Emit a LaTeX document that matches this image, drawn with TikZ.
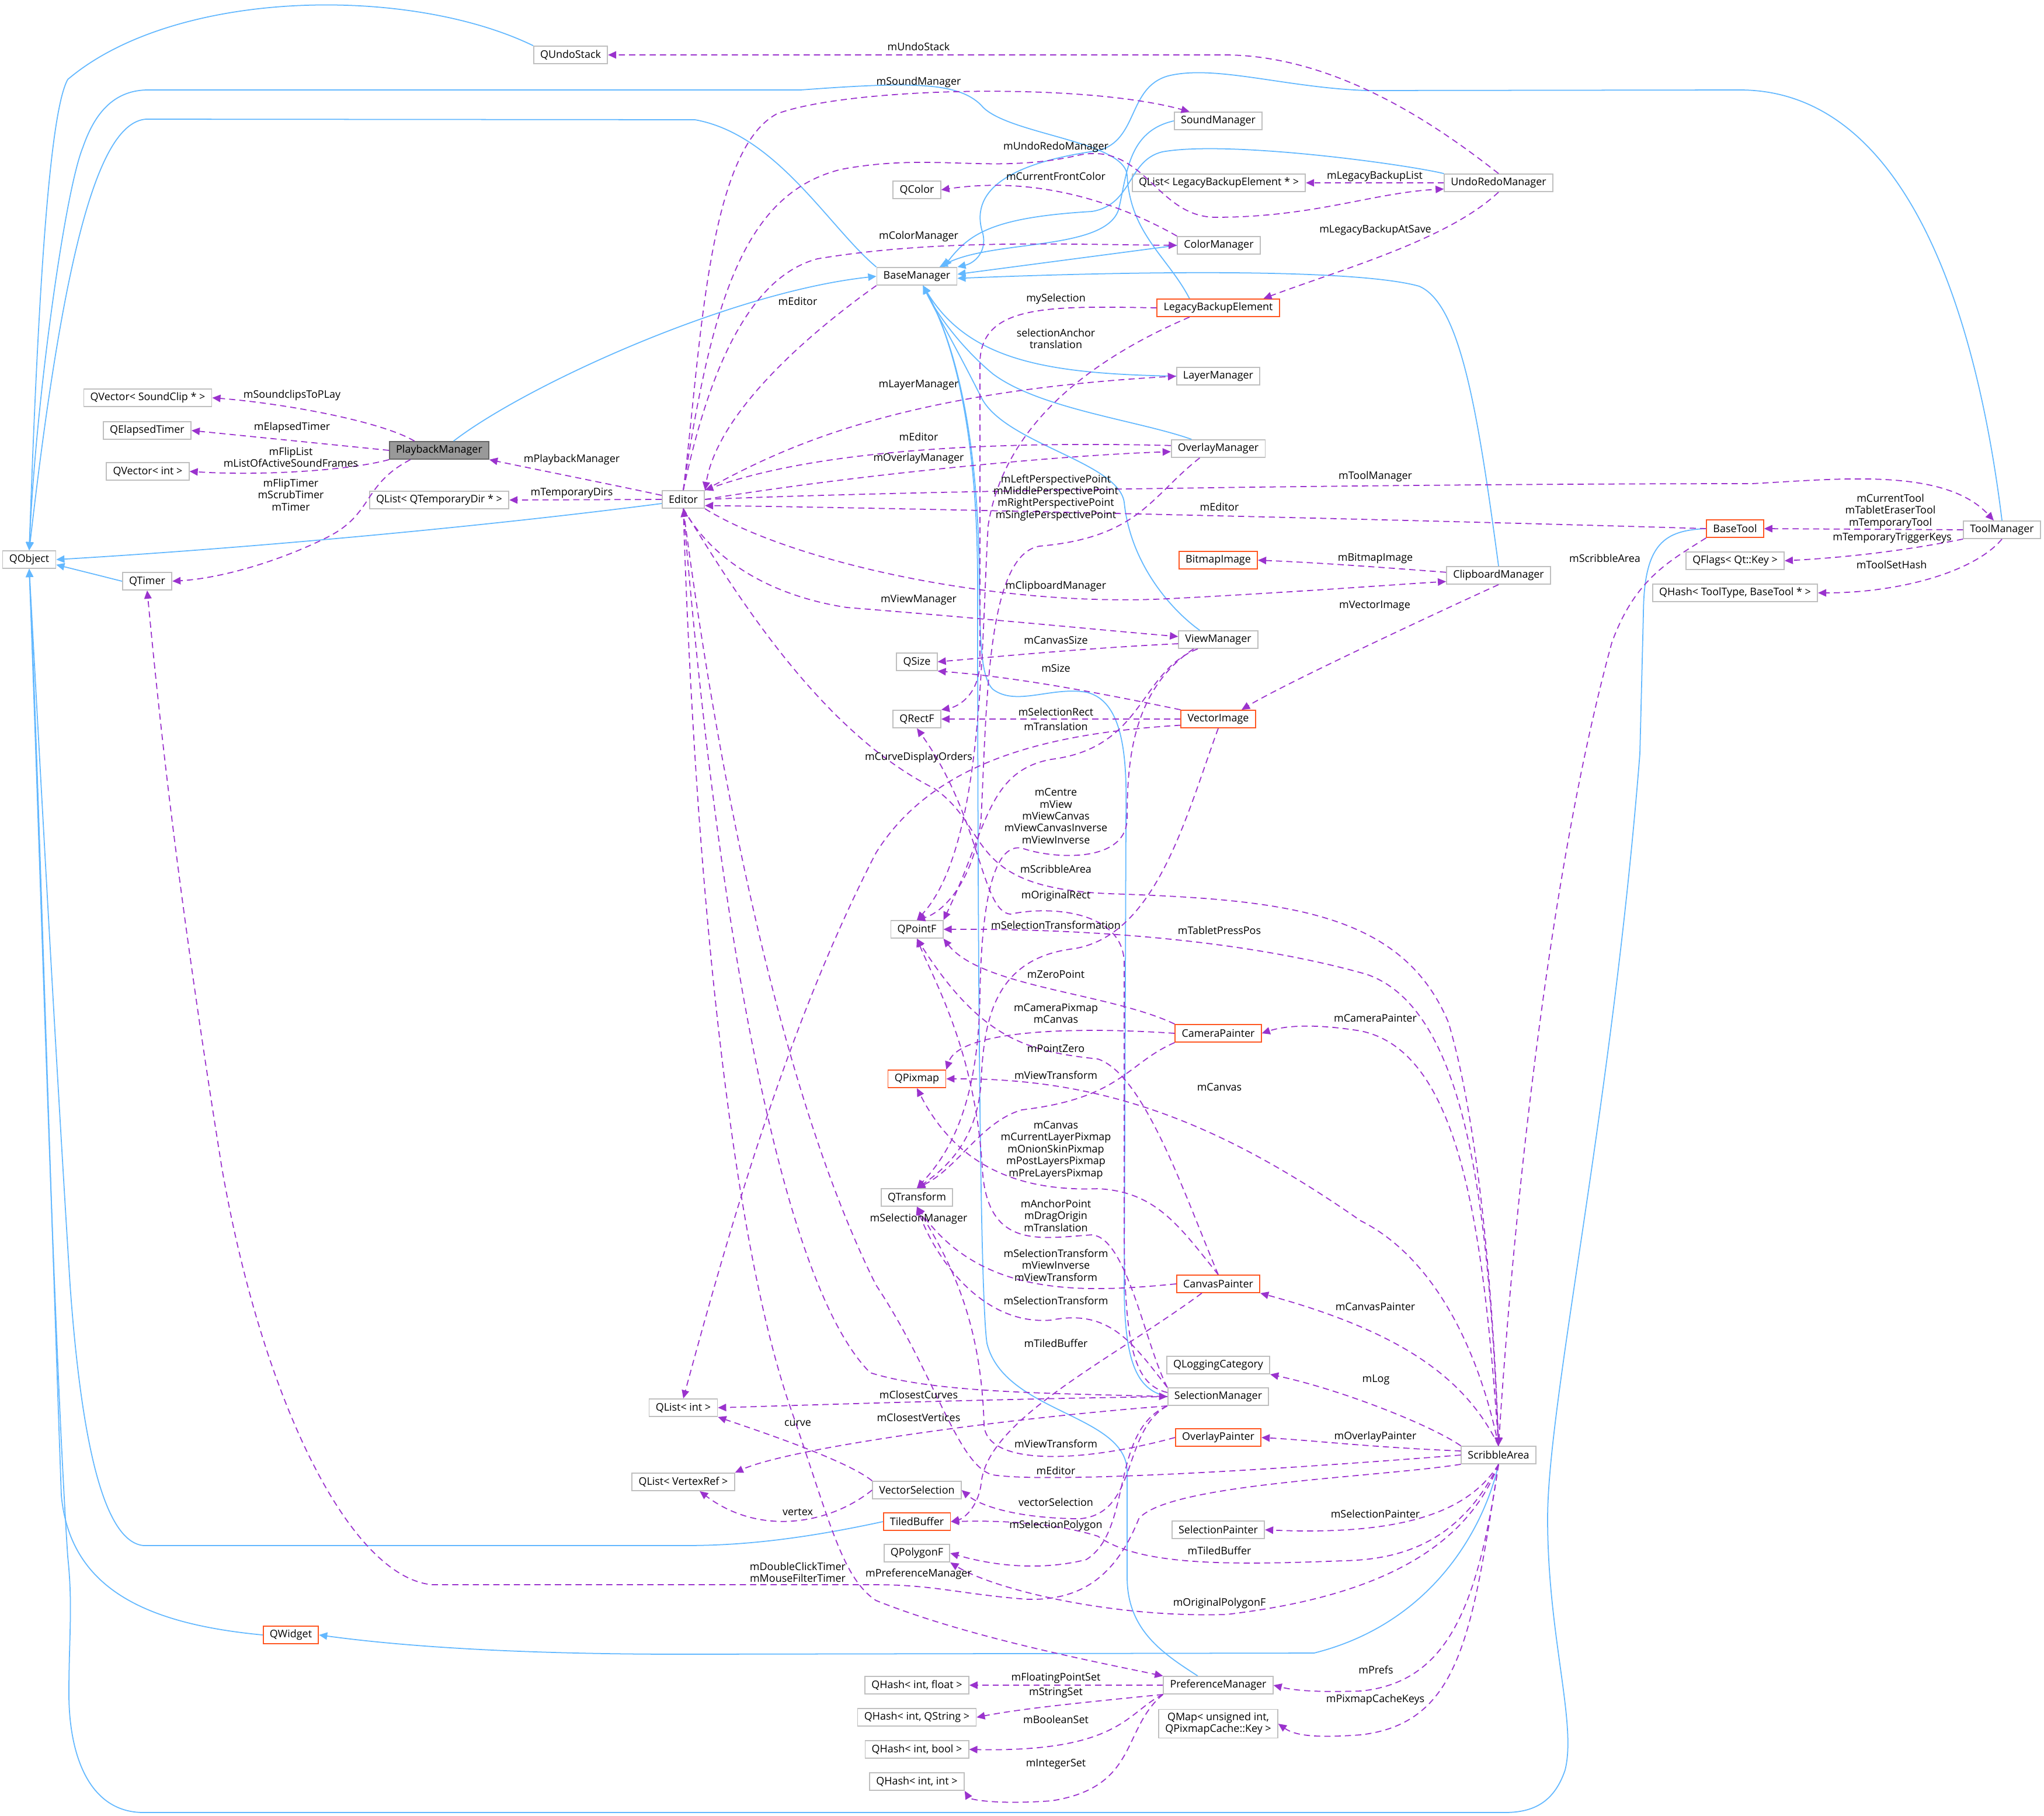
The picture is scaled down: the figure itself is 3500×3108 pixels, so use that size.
\documentclass[tikz,border=0pt]{standalone}
\usepackage{fontspec}
\setmainfont{Open Sans}
\usetikzlibrary{arrows.meta}
\definecolor{inhblue}{HTML}{63B8FF}
\definecolor{usepurple}{HTML}{9A32CD}
\definecolor{boxgray}{HTML}{BFBFBF}
\definecolor{boxred}{HTML}{FF5722}
\definecolor{curfill}{HTML}{999999}
\definecolor{curline}{HTML}{666666}

\begin{document}
\begin{tikzpicture}[
  x=0.01cm, y=-0.01cm,
  cls/.style={draw=boxgray, line width=0.5pt, fill=white, inner xsep=3.2pt,
              inner ysep=0.8pt, minimum height=0.30cm, align=center,
              font=\fontsize{5.1}{5.8}\selectfont},
  clsext/.style={cls, draw=boxred},
  clscur/.style={cls, draw=curline, fill=curfill},
  lbl/.style={inner sep=0pt, align=center, font=\fontsize{5.1}{5.8}\selectfont},
  inherit/.style={draw=inhblue, line width=0.5pt, -{Triangle[length=4pt,width=3.6pt]}},
  uses/.style={draw=usepurple, line width=0.5pt, dash pattern=on 3pt off 2pt,
               -{Triangle[length=4pt,width=3.6pt]}}
]
  \useasboundingbox (0,0) rectangle (3500,3108);

  \node[cls] (qobject) at (50,958) {QObject};
  \node[cls] (qtimer) at (252,995) {QTimer};
  \node[cls] (qvecsound) at (253,681) {QVector< SoundClip * >};
  \node[cls] (qelapsed) at (252,737) {QElapsedTimer};
  \node[cls] (qvecint) at (253,807) {QVector< int >};
  \node[clscur] (playback) at (752,771) {PlaybackManager};
  \node[cls] (qlisttmp) at (752,856) {QList< QTemporaryDir * >};
  \node[cls] (qundostack) at (977,94) {QUndoStack};
  \node[cls] (editor) at (1170,855) {Editor};
  \node[clsext] (qwidget) at (498,2799) {QWidget};
  \node[cls] (qlistint) at (1170,2410) {QList< int >};
  \node[cls] (qlistvertex) at (1170,2537) {QList< VertexRef >};

  \node[cls] (basemgr) at (1570,473) {BaseManager};
  \node[cls] (qcolor) at (1570,325) {QColor};
  \node[cls] (qsize) at (1570,1133) {QSize};
  \node[cls] (qrectf) at (1570,1231) {QRectF};
  \node[cls] (qpointf) at (1570,1591) {QPointF};
  \node[clsext] (qpixmap) at (1570,1847) {QPixmap};
  \node[cls] (qtransform) at (1570,2050) {QTransform};
  \node[cls] (vecsel) at (1570,2551) {VectorSelection};
  \node[clsext] (tiledbuf) at (1570,2605) {TiledBuffer};
  \node[cls] (qpolygonf) at (1570,2659) {QPolygonF};
  \node[cls] (qhashfloat) at (1570,2885) {QHash< int, float >};
  \node[cls] (qhashstring) at (1570,2940) {QHash< int, QString >};
  \node[cls] (qhashbool) at (1570,2995) {QHash< int, bool >};
  \node[cls] (qhashint) at (1570,3050) {QHash< int, int >};

  \node[cls] (soundmgr) at (2086,207) {SoundManager};
  \node[cls] (qlistlegacy) at (2087,313) {QList< LegacyBackupElement * >};
  \node[cls] (colormgr) at (2087,420) {ColorManager};
  \node[clsext] (legacy) at (2086,527) {LegacyBackupElement};
  \node[cls] (layermgr) at (2086,644) {LayerManager};
  \node[cls] (overlaymgr) at (2086,768) {OverlayManager};
  \node[clsext] (bitmap) at (2086,959) {BitmapImage};
  \node[cls] (viewmgr) at (2086,1095) {ViewManager};
  \node[clsext] (vecimage) at (2086,1231) {VectorImage};
  \node[clsext] (campainter) at (2086,1769) {CameraPainter};
  \node[clsext] (canvaspainter) at (2086,2198) {CanvasPainter};
  \node[cls] (qlogging) at (2086,2337) {QLoggingCategory};
  \node[cls] (selmgr) at (2086,2391) {SelectionManager};
  \node[clsext] (overlaypainter) at (2086,2461) {OverlayPainter};
  \node[cls] (selpainter) at (2086,2619) {SelectionPainter};
  \node[cls] (prefmgr) at (2086,2885) {PreferenceManager};
  \node[cls, inner ysep=1.5pt] (qmap) at (2086,2951) {QMap< unsigned int,\\ QPixmapCache::Key >};

  \node[cls] (undoredo) at (2566,313) {UndoRedoManager};
  \node[cls] (clipboard) at (2566,985) {ClipboardManager};
  \node[cls] (scribble) at (2566,2491) {ScribbleArea};
  \node[clsext] (basetool) at (2971,905) {BaseTool};
  \node[cls] (qflags) at (2971,960) {QFlags< Qt::Key >};
  \node[cls] (qhashtool) at (2971,1015) {QHash< ToolType, BaseTool * >};
  \node[cls] (toolmgr) at (3428,907) {ToolManager};

  % inheritance
  \draw[inherit] (qundostack.north west) .. controls (700,-25) and (300,-20) .. (116,136) .. controls (80,200) and (62,600) .. (qobject.north);
  \draw[inherit] ([xshift=-14pt]legacy.north) .. controls (2000,440) and (1935,400) .. (1930,300) .. controls (1925,240) and (1720,230) .. (1680,180) .. controls (1640,140) and (1560,140) .. (1371,154) -- (250,154) .. controls (190,156) and (160,200) .. (142,252) .. controls (110,330) and (60,700) .. (qobject.north);
  \draw[inherit] (basemgr.north west) .. controls (1420,390) and (1330,230) .. (1190,205) -- (250,204) .. controls (170,210) and (110,420) .. (qobject.north);
  \draw[inherit] ([yshift=-2pt]editor.west) .. controls (800,905) and (400,940) .. (qobject.east);
  \draw[inherit] (qtimer.west) -- ([yshift=-2.5pt]qobject.east);
  \draw[inherit] (qwidget.west) .. controls (250,2780) and (120,2720) .. (105,2560) .. controls (85,2000) and (65,1300) .. (qobject.south);
  \draw[inherit] (tiledbuf.west) .. controls (1350,2640) and (1250,2646) .. (1170,2646) -- (246,2646) .. controls (180,2640) and (140,2480) .. (120,2200) .. controls (95,1800) and (68,1300) .. (qobject.south);
  \draw[inherit] (basetool.west) .. controls (2850,908) and (2815,930) .. (2814,1050) -- (2808,1290) .. controls (2760,1900) and (2650,2400) .. (2650,2600) .. controls (2650,2800) and (2700,2950) .. (2680,3030) .. controls (2660,3090) and (2620,3103) .. (2576,3103) -- (246,3103) .. controls (150,3103) and (118,3000) .. (118,2900) .. controls (118,2800) and (125,2750) .. (116,2665) .. controls (92,2300) and (70,1500) .. (qobject.south);
  \draw[inherit] (scribble.south) .. controls (2540,2620) and (2450,2780) .. (2250,2830) -- (1170,2832) .. controls (900,2832) and (700,2820) .. (qwidget.east);
  \draw[inherit] ([xshift=7pt]playback.north) .. controls (900,660) and (1250,500) .. (basemgr.west);
  \draw[inherit] (soundmgr.west) .. controls (1930,225) and (1930,300) .. (1915,360) .. controls (1890,430) and (1700,410) .. ([xshift=11pt]basemgr.north);
  \draw[inherit] (undoredo.north west) .. controls (2400,280) and (2100,240) .. (1990,260) .. controls (1930,275) and (1940,350) .. (1870,362) .. controls (1700,372) and (1660,400) .. ([xshift=13pt]basemgr.north);
  \draw[inherit] (toolmgr.north) .. controls (3380,500) and (3250,154) .. (2979,154) -- (2340,155) .. controls (2200,150) and (2080,110) .. (2000,130) .. controls (1930,150) and (1950,240) .. (1880,258) .. controls (1720,280) and (1660,330) .. (1683,400) .. controls (1690,430) and (1670,450) .. (basemgr.north east);
  \draw[inherit] (colormgr.west) -- ([yshift=1pt]basemgr.east);
  \draw[inherit] (clipboard.north) .. controls (2530,700) and (2500,520) .. (2430,490) .. controls (2330,462) and (2000,462) .. ([yshift=-1pt]basemgr.east);
  \draw[inherit] (layermgr.west) .. controls (1800,640) and (1660,620) .. ([xshift=3pt]basemgr.south);
  \draw[inherit] ([xshift=-13pt]overlaymgr.north) .. controls (1950,720) and (1780,700) .. (1700,640) .. controls (1640,590) and (1600,530) .. ([xshift=3pt]basemgr.south);
  \draw[inherit] ([xshift=-9pt]viewmgr.north) .. controls (2000,1040) and (1935,960) .. (1925,860) .. controls (1915,790) and (1720,760) .. (1680,680) .. controls (1640,600) and (1600,530) .. ([xshift=3pt]basemgr.south);
  \draw[inherit] (selmgr.west) .. controls (1950,2380) and (1925,2340) .. (1925,2200) -- (1928,1400) .. controls (1930,1300) and (1925,1200) .. (1860,1185) .. controls (1800,1175) and (1740,1210) .. (1700,1180) .. controls (1680,1160) and (1678,1100) .. (1677,1000) .. controls (1676,700) and (1620,560) .. ([xshift=3pt]basemgr.south);
  \draw[inherit] ([xshift=-10pt]prefmgr.north) .. controls (1990,2830) and (1930,2790) .. (1930,2700) -- (1930,2520) .. controls (1930,2420) and (1720,2420) .. (1690,2300) .. controls (1675,2200) and (1674,1300) .. (1674,1000) .. controls (1674,700) and (1620,560) .. ([xshift=3pt]basemgr.south);

  % members
  \draw[uses] ([xshift=-12pt]playback.north) .. controls (650,720) and (480,690) .. (qvecsound.east);
  \draw[uses] (playback.west) -- (qelapsed.east);
  \draw[uses] (playback.south west) .. controls (600,805) and (450,815) .. (qvecint.east);
  \draw[uses] ([xshift=-14pt]playback.south) .. controls (620,830) and (640,880) .. (560,920) .. controls (480,960) and (380,990) .. (qtimer.east);
  \draw[uses] ([yshift=2pt]editor.west) .. controls (1050,830) and (900,800) .. (playback.south east);
  \draw[uses] (editor.west) -- (qlisttmp.east);

  \draw[uses] (undoredo.north) .. controls (2480,230) and (2300,96) .. (2100,94) -- (qundostack.east);
  \draw[uses] (editor.north) .. controls (1200,600) and (1210,260) .. (1330,195) .. controls (1450,150) and (1850,140) .. ([xshift=-14pt]soundmgr.north);
  \draw[uses] (editor.north) .. controls (1220,500) and (1280,330) .. (1440,290) .. controls (1600,260) and (1700,300) .. (1850,265) .. controls (1960,245) and (1980,370) .. (2080,372) .. controls (2250,372) and (2350,330) .. ([yshift=-3pt]undoredo.west);
  \draw[uses] (undoredo.west) -- (qlistlegacy.east);
  \draw[uses] (colormgr.north west) .. controls (1920,350) and (1780,300) .. (qcolor.east);
  \draw[uses] (undoredo.south) .. controls (2480,410) and (2300,460) .. ([xshift=-8pt]legacy.north east);
  \draw[uses] (editor.north) .. controls (1200,700) and (1260,480) .. (1400,443) .. controls (1600,410) and (1800,418) .. (colormgr.west);
  \draw[uses] (basemgr.south west) .. controls (1400,560) and (1230,700) .. (editor.north east);
  \draw[uses] (legacy.west) .. controls (1800,524) and (1680,520) .. (1678,620) -- (1678,1130) .. controls (1678,1190) and (1640,1210) .. (qrectf.north east);
  \draw[uses] ([xshift=-14pt]legacy.south) .. controls (1880,610) and (1720,720) .. (1692,900) .. controls (1680,1100) and (1685,1450) .. (qpointf.north);
  \draw[uses] (editor.north east) .. controls (1350,760) and (1550,670) .. (layermgr.west);
  \draw[uses] ([yshift=1.5pt]overlaymgr.west) .. controls (1700,755) and (1400,770) .. (editor.north east);
  \draw[uses] (editor.east) .. controls (1450,815) and (1800,780) .. ([yshift=-1.5pt]overlaymgr.west);
  \draw[uses] ([xshift=-9pt]overlaymgr.south) .. controls (1970,850) and (1950,920) .. (1780,935) .. controls (1690,950) and (1690,1200) .. (1680,1400) .. controls (1670,1500) and (1620,1560) .. (qpointf.north);
  \draw[uses] (editor.east) .. controls (1600,838) and (2500,828) .. (3000,828) .. controls (3150,820) and (3330,800) .. ([xshift=-4pt]toolmgr.north);
  \draw[uses] (basetool.west) .. controls (2600,895) and (1600,870) .. ([yshift=-3pt]editor.east);
  \draw[uses] (toolmgr.west) -- (basetool.east);
  \draw[uses] (toolmgr.south west) .. controls (3250,945) and (3150,955) .. (qflags.east);
  \draw[uses] (toolmgr.south) .. controls (3380,980) and (3250,1015) .. (qhashtool.east);
  \draw[uses] (basetool.south west) .. controls (2860,960) and (2800,990) .. (2760,1100) .. controls (2650,1500) and (2590,2100) .. (scribble.north);
  \draw[uses] ([yshift=1.5pt]clipboard.west) .. controls (2350,970) and (2250,963) .. (bitmap.east);
  \draw[uses] (editor.south east) .. controls (1350,960) and (1700,1040) .. (2000,1025) .. controls (2200,1015) and (2400,1000) .. ([yshift=-3pt]clipboard.west);
  \draw[uses] (clipboard.south) .. controls (2480,1040) and (2200,1170) .. ([xshift=-7pt]vecimage.north east);

  \draw[uses] (editor.south) .. controls (1220,960) and (1320,1020) .. (1450,1040) .. controls (1700,1060) and (1900,1080) .. ([yshift=1.5pt]viewmgr.west);
  \draw[uses] ([yshift=-2pt]viewmgr.west) .. controls (1850,1110) and (1700,1125) .. (qsize.east);
  \draw[uses] (vecimage.north west) .. controls (1900,1190) and (1750,1160) .. (qsize.south east);
  \draw[uses] (vecimage.west) -- (qrectf.east);
  \draw[uses] ([yshift=-3pt]vecimage.west) .. controls (1800,1255) and (1600,1300) .. (1500,1460) .. controls (1350,1750) and (1250,2100) .. (qlistint.north);
  \draw[uses] ([xshift=-10pt]viewmgr.south) .. controls (1950,1150) and (1960,1280) .. (1800,1300) .. controls (1690,1320) and (1690,1420) .. (qpointf.north east);
  \draw[uses] ([xshift=-12pt]viewmgr.south) .. controls (1940,1180) and (1930,1300) .. (1930,1400) .. controls (1930,1480) and (1800,1470) .. (1750,1452) .. controls (1690,1440) and (1680,1600) .. (1678,1700) .. controls (1676,1900) and (1620,1980) .. (qtransform.north);
  \draw[uses] (editor.south) .. controls (1250,1000) and (1400,1250) .. (1600,1350) .. controls (1700,1420) and (1650,1520) .. (1900,1530) .. controls (2200,1540) and (2400,1560) .. (2480,1750) .. controls (2540,1950) and (2560,2300) .. (scribble.north);
  \draw[uses] ([yshift=2pt]selmgr.west) .. controls (1940,2370) and (1925,2300) .. (1925,2100) -- (1925,1650) .. controls (1925,1560) and (1800,1550) .. (1730,1565) .. controls (1680,1560) and (1680,1400) .. (qrectf.south);
  \draw[uses] (vecimage.south) .. controls (2030,1400) and (1980,1600) .. (1840,1624) .. controls (1700,1640) and (1685,1750) .. (1680,1850) .. controls (1675,1950) and (1620,2000) .. (qtransform.north);

  \draw[uses] (scribble.north) .. controls (2550,2100) and (2520,1730) .. (2340,1668) .. controls (2100,1600) and (1800,1590) .. (qpointf.east);
  \draw[uses] (campainter.north west) .. controls (1900,1700) and (1680,1690) .. (qpointf.south east);
  \draw[uses] (campainter.west) .. controls (1800,1755) and (1640,1770) .. (qpixmap.north east);
  \draw[uses] (scribble.north) .. controls (2540,2100) and (2500,1800) .. (2330,1765) .. controls (2250,1752) and (2200,1756) .. (campainter.east);
  \draw[uses] (canvaspainter.north) .. controls (2030,2050) and (1960,1840) .. (1880,1813) .. controls (1760,1800) and (1680,1780) .. (qpointf.south);
  \draw[uses] (campainter.south west) .. controls (1930,1820) and (1920,1880) .. (1750,1900) .. controls (1680,1920) and (1640,2000) .. (qtransform.north);
  \draw[uses] (scribble.north) .. controls (2530,2300) and (2450,2150) .. (2330,2090) .. controls (2100,1930) and (1900,1845) .. (qpixmap.east);
  \draw[uses] (canvaspainter.north) .. controls (2020,2100) and (1980,2040) .. (1880,2035) .. controls (1750,2040) and (1640,2000) .. (qpixmap.south);
  \draw[uses] (selmgr.north west) .. controls (1960,2300) and (1930,2120) .. (1870,2114) .. controls (1780,2120) and (1690,2140) .. (1682,2000) .. controls (1670,1800) and (1600,1680) .. (qpointf.south);
  \draw[uses] (editor.south) .. controls (1230,1600) and (1340,2200) .. (1490,2350) .. controls (1600,2385) and (1800,2385) .. (selmgr.west);
  \draw[uses] (canvaspainter.west) .. controls (1850,2214) and (1680,2220) .. (qtransform.south);
  \draw[uses] (selmgr.north west) .. controls (1940,2300) and (1900,2240) .. (1800,2260) .. controls (1680,2270) and (1600,2150) .. (qtransform.south);
  \draw[uses] (scribble.north) .. controls (2510,2360) and (2400,2280) .. (canvaspainter.south east);
  \draw[uses] ([xshift=-8pt]canvaspainter.south) .. controls (1900,2330) and (1690,2430) .. (1680,2540) .. controls (1675,2580) and (1650,2600) .. (tiledbuf.east);
  \draw[uses] (scribble.north west) .. controls (2450,2440) and (2300,2380) .. (qlogging.south east);

  \draw[uses] (selmgr.west) .. controls (1700,2395) and (1400,2405) .. (qlistint.east);
  \draw[uses] (selmgr.south west) .. controls (1700,2430) and (1350,2480) .. (qlistvertex.north east);
  \draw[uses] (vecsel.north west) .. controls (1450,2500) and (1300,2450) .. (qlistint.south east);
  \draw[uses] (vecsel.west) .. controls (1420,2610) and (1300,2630) .. ([xshift=8pt]qlistvertex.south);
  \draw[uses] (overlaypainter.west) .. controls (1850,2505) and (1690,2510) .. (1685,2440) .. controls (1680,2250) and (1620,2150) .. (qtransform.south);
  \draw[uses] ([yshift=2pt]scribble.west) .. controls (2350,2478) and (2250,2466) .. (overlaypainter.east);
  \draw[uses] (scribble.west) .. controls (2200,2515) and (1800,2540) .. (1700,2525) .. controls (1640,2510) and (1600,2350) .. (1500,2200) .. controls (1300,1800) and (1200,1100) .. (editor.south);
  \draw[uses] (selmgr.south west) .. controls (1920,2450) and (1950,2590) .. (1850,2600) .. controls (1750,2600) and (1680,2580) .. (vecsel.east);
  \draw[uses] (selmgr.south west) .. controls (1900,2450) and (1940,2620) .. (1860,2670) .. controls (1780,2690) and (1700,2680) .. (qpolygonf.east);
  \draw[uses] (scribble.south) .. controls (2520,2580) and (2420,2630) .. (selpainter.east);
  \draw[uses] (scribble.south) .. controls (2500,2640) and (2400,2670) .. (2300,2672) .. controls (2100,2680) and (1950,2680) .. (1880,2630) .. controls (1800,2605) and (1700,2603) .. (tiledbuf.east);
  \draw[uses] (scribble.south west) .. controls (2350,2530) and (2000,2540) .. (1950,2600) .. controls (1910,2700) and (1850,2740) .. (1760,2738) .. controls (1650,2730) and (1600,2713) .. (1500,2713) -- (740,2713) .. controls (600,2700) and (450,2400) .. (380,2000) .. controls (300,1500) and (270,1200) .. (qtimer.south);
  \draw[uses] (editor.south) .. controls (1190,1500) and (1250,2100) .. (1350,2400) .. controls (1420,2600) and (1440,2700) .. (1500,2740) .. controls (1650,2800) and (1850,2840) .. (prefmgr.north west);
  \draw[uses] (scribble.south) .. controls (2500,2680) and (2300,2740) .. (2100,2764) .. controls (1900,2770) and (1700,2720) .. (qpolygonf.south east);
  \draw[uses] (scribble.south) .. controls (2530,2750) and (2480,2880) .. (2330,2895) .. controls (2260,2897) and (2220,2895) .. (prefmgr.east);
  \draw[uses] (scribble.south) .. controls (2520,2800) and (2500,2950) .. (2330,2970) .. controls (2260,2975) and (2220,2973) .. (qmap.east);
  \draw[uses] (prefmgr.west) -- (qhashfloat.east);
  \draw[uses] (prefmgr.south west) .. controls (1850,2915) and (1750,2925) .. (qhashstring.east);
  \draw[uses] (prefmgr.south west) .. controls (1930,2930) and (1920,3000) .. (qhashbool.east);
  \draw[uses] (prefmgr.south west) .. controls (1920,2960) and (1950,3060) .. (1800,3083) .. controls (1700,3090) and (1660,3080) .. (qhashint.south east);

  % edge labels
  \node[lbl] (lSoundclips) at (500,677) {mSoundclipsToPLay};
  \node[lbl] (lElapsed) at (500,732) {mElapsedTimer};
  \node[lbl] (lFlipList) at (498,783) {mFlipList\\mListOfActiveSoundFrames};
  \node[lbl] (lFlipTimer) at (498,847) {mFlipTimer\\mScrubTimer\\mTimer};
  \node[lbl] (lPlayback) at (979,787) {mPlaybackManager};
  \node[lbl] (lTempDirs) at (979,844) {mTemporaryDirs};
  \node[lbl] (lUndoStack) at (1573,80) {mUndoStack};
  \node[lbl] (lSoundMgr) at (1573,141) {mSoundManager};
  \node[lbl] (lUndoRedo) at (1808,252) {mUndoRedoManager};
  \node[lbl] (lLegacyList) at (2354,302) {mLegacyBackupList};
  \node[lbl] (lFrontColor) at (1808,302) {mCurrentFrontColor};
  \node[lbl] (lAtSave) at (2355,394) {mLegacyBackupAtSave};
  \node[lbl] (lColorMgr) at (1573,405) {mColorManager};
  \node[lbl] (lEditorA) at (1366,516) {mEditor};
  \node[lbl] (lMySel) at (1808,512) {mySelection};
  \node[lbl] (lAnchor) at (1808,580) {selectionAnchor\\translation};
  \node[lbl] (lLayerMgr) at (1573,659) {mLayerManager};
  \node[lbl] (lEditorB) at (1573,748) {mEditor};
  \node[lbl] (lOverlayMgr) at (1573,785) {mOverlayManager};
  \node[lbl] (lPersp) at (1808,852) {mLeftPerspectivePoint\\mMiddlePerspectivePoint\\mRightPerspectivePoint\\mSinglePerspectivePoint};
  \node[lbl] (lToolMgr) at (2355,816) {mToolManager};
  \node[lbl] (lEditorC) at (2088,868) {mEditor};
  \node[lbl] (lCurTool) at (3237,875) {mCurrentTool\\mTabletEraserTool\\mTemporaryTool};
  \node[lbl] (lTrigger) at (3240,921) {mTemporaryTriggerKeys};
  \node[lbl] (lToolSet) at (3239,967) {mToolSetHash};
  \node[lbl] (lBitmap) at (2355,956) {mBitmapImage};
  \node[lbl] (lScribbleA) at (2748,956) {mScribbleArea};
  \node[lbl] (lClipMgr) at (1808,1004) {mClipboardManager};
  \node[lbl] (lVecImage) at (2354,1037) {mVectorImage};
  \node[lbl] (lViewMgr) at (1573,1027) {mViewManager};
  \node[lbl] (lCanvasSize) at (1808,1096) {mCanvasSize};
  \node[lbl] (lSize) at (1808,1144) {mSize};
  \node[lbl] (lSelRect) at (1808,1219) {mSelectionRect};
  \node[lbl] (lTranslA) at (1808,1244) {mTranslation};
  \node[lbl] (lCurveOrd) at (1573,1297) {mCurveDisplayOrders};
  \node[lbl] (lCentre) at (1808,1397) {mCentre\\mView\\mViewCanvas\\mViewCanvasInverse\\mViewInverse};
  \node[lbl] (lScribbleB) at (1808,1488) {mScribbleArea};
  \node[lbl] (lOrigRect) at (1808,1534) {mOriginalRect};
  \node[lbl] (lSelTransf) at (1808,1584) {mSelectionTransformation};
  \node[lbl] (lTablet) at (2088,1593) {mTabletPressPos};
  \node[lbl] (lZero) at (1808,1668) {mZeroPoint};
  \node[lbl] (lCamPix) at (1808,1735) {mCameraPixmap\\mCanvas};
  \node[lbl] (lCamPainter) at (2355,1743) {mCameraPainter};
  \node[lbl] (lPointZero) at (1808,1795) {mPointZero};
  \node[lbl] (lViewTrA) at (1808,1841) {mViewTransform};
  \node[lbl] (lCanvas) at (2088,1861) {mCanvas};
  \node[lbl] (lPixmaps) at (1808,1969) {mCanvas\\mCurrentLayerPixmap\\mOnionSkinPixmap\\mPostLayersPixmap\\mPreLayersPixmap};
  \node[lbl] (lDrag) at (1808,2081) {mAnchorPoint\\mDragOrigin\\mTranslation};
  \node[lbl] (lSelMgr) at (1573,2087) {mSelectionManager};
  \node[lbl] (lSelTrB) at (1808,2166) {mSelectionTransform\\mViewInverse\\mViewTransform};
  \node[lbl] (lSelTrC) at (1808,2227) {mSelectionTransform};
  \node[lbl] (lCanvPainter) at (2355,2237) {mCanvasPainter};
  \node[lbl] (lTiledA) at (1808,2300) {mTiledBuffer};
  \node[lbl] (lLog) at (2356,2362) {mLog};
  \node[lbl] (lClCurves) at (1573,2388) {mClosestCurves};
  \node[lbl] (lCurve) at (1366,2437) {curve};
  \node[lbl] (lClVert) at (1573,2427) {mClosestVertices};
  \node[lbl] (lViewTrB) at (1808,2472) {mViewTransform};
  \node[lbl] (lOvPainter) at (2355,2460) {mOverlayPainter};
  \node[lbl] (lEditorD) at (1808,2518) {mEditor};
  \node[lbl] (lVertex) at (1366,2589) {vertex};
  \node[lbl] (lVecSel) at (1808,2572) {vectorSelection};
  \node[lbl] (lSelPoly) at (1808,2612) {mSelectionPolygon};
  \node[lbl] (lSelPainter) at (2355,2592) {mSelectionPainter};
  \node[lbl] (lTiledB) at (2088,2655) {mTiledBuffer};
  \node[lbl] (lTimers) at (1366,2692) {mDoubleClickTimer\\mMouseFilterTimer};
  \node[lbl] (lPrefMgr) at (1573,2695) {mPreferenceManager};
  \node[lbl] (lOrigPoly) at (2088,2745) {mOriginalPolygonF};
  \node[lbl] (lPrefs) at (2356,2859) {mPrefs};
  \node[lbl] (lFloatSet) at (1808,2873) {mFloatingPointSet};
  \node[lbl] (lStringSet) at (1808,2898) {mStringSet};
  \node[lbl] (lCacheKeys) at (2355,2910) {mPixmapCacheKeys};
  \node[lbl] (lBoolSet) at (1808,2944) {mBooleanSet};
  \node[lbl] (lIntSet) at (1808,3020) {mIntegerSet};
\end{tikzpicture}
\end{document}
